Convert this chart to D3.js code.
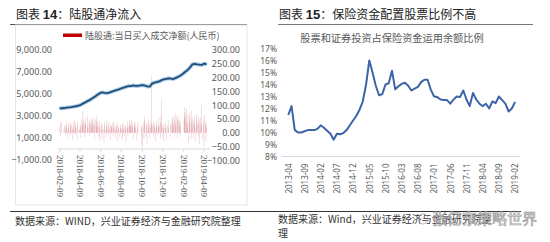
<!DOCTYPE html>
<html><head><meta charset="utf-8">
<script src="https://cdn.jsdelivr.net/npm/d3@7/dist/d3.min.js"></script>
<style>body{margin:0;background:#fff}svg{display:block}</style>
</head><body>
<svg id="c" width="550" height="242"></svg>
<script>
// ---------- DATA: left chart (陆股通) ----------
const leftStart = "2018-02-09";
const leftEnd = "2019-04-19";
const leftHolidays = ["2018-02-15","2018-02-16","2018-02-19","2018-02-20","2018-02-21","2018-04-05","2018-04-06","2018-04-30","2018-05-01","2018-06-18","2018-09-24","2018-10-01","2018-10-02","2018-10-03","2018-10-04","2018-10-05","2018-12-25","2018-12-26","2018-12-31","2019-01-01","2019-02-04","2019-02-05","2019-02-06","2019-02-07","2019-02-08","2019-04-05"];
// daily net buy (亿元, right axis)
const dailyNet = [
 20,-15,35,40,12,25,-8,30,18,45,22,-20,10,28,35,15,-12,40,26,8,
 30,-25,15,38,20,12,48,-10,22,35,18,-30,25,42,10,16,-18,30,22,50,
 35,20,79,45,28,-15,38,55,30,22,60,18,42,-12,35,50,25,48,33,15,
 40,56,28,45,-20,30,52,38,20,62,44,25,-15,30,18,40,-28,22,35,12,
 -22,30,15,-35,25,40,10,-18,32,20,45,15,-10,28,38,12,22,-25,30,18,
 25,35,-12,20,42,15,28,-20,10,30,22,38,-30,15,25,12,-15,32,20,8,
 18,-25,30,22,12,35,-10,20,28,15,-35,22,40,18,-12,25,30,45,20,38,
 25,50,35,28,15,-20,30,42,22,35,18,-30,25,12,40,22,-45,30,-60,20,
 35,-25,45,60,28,-15,38,22,-40,30,15,50,25,-20,35,18,42,28,205,30,
 25,-15,40,20,35,-30,15,28,45,22,-10,30,18,55,25,-20,38,60,30,120,
 22,-15,35,18,-30,25,12,40,20,-25,30,15,45,28,-12,35,55,22,40,60,
 30,48,-15,70,35,25,58,40,-20,65,45,30,50,22,38,-10,45,92,60,75,
 55,88,40,30,65,20,-35,50,72,35,60,-25,40,80,30,55,-20,45,28,65,
 35,-30,50,22,70,40,-15,60,30,45,-40,55,25,100,35,-20,50,30,-50,65,
 25,40,-30,20,35
];
// weekly cumulative net inflow (亿元, left axis), one value per week from leftStart
const cumulative = [
 3670,3680,3700,3730,3760,3790,3825,3860,3910,3990,
 4120,4230,4350,4460,4600,4740,4890,5040,5110,5060,
 5040,5100,5180,5250,5320,5390,5470,5540,5620,5680,
 5680,5740,5700,5700,5740,5780,5720,5650,5640,5900,
 6000,6050,6100,6220,6300,6340,6390,6360,6320,6420,
 6520,6640,6800,6980,7140,7380,7650,7690,7650,7620,
 7600,7720,7650
];
const leftTicksL = [-1000,1000,3000,5000,7000,9000];
const leftTicksR = [-100,-50,0,50,100,150,200,250,300];
const leftDateTicks = ["2018-02-09","2018-04-09","2018-06-09","2018-08-09","2018-10-09","2018-12-09","2019-02-09","2019-04-09"];

// ---------- DATA: right chart (保险资金) ----------
const rightStartMonth = "2013-04";
const stockRatio = [
 11.46,12.2,10.2,10.0,10.0,10.1,10.2,10.2,10.2,10.3,
 10.6,10.4,10.15,9.9,9.4,9.9,9.85,9.95,10.2,10.6,
 11.0,11.4,11.9,12.6,14.0,16.0,15.0,13.9,13.1,13.2,
 14.0,14.1,15.15,13.6,13.85,14.05,14.15,13.9,13.5,13.65,
 13.8,14.2,14.4,14.4,13.55,13.0,12.95,12.75,12.7,12.7,
 12.4,12.75,13.0,12.95,13.5,12.75,12.2,13.3,12.75,12.4,
 12.2,12.4,12.0,12.6,12.45,13.0,12.7,12.4,11.75,12.0,
 12.55
];
const rightTicksY = [8,9,10,11,12,13,14,15,16,17];
const rightTickEvery = 5;

// ---------- helpers ----------
const parse = d3.timeParse("%Y-%m-%d");
const fmtDay = d3.timeFormat("%Y-%m-%d");
const svg = d3.select("#c");
const CJK = "'Noto Sans CJK SC','Noto Sans',sans-serif";

// trading days
const hol = new Set(leftHolidays);
const tradeDays = [];
for (let d = parse(leftStart); d <= parse(leftEnd); d = d3.timeDay.offset(d, 1)) {
  const w = d.getDay();
  if (w === 0 || w === 6 || hol.has(fmtDay(d))) continue;
  tradeDays.push(new Date(d));
}
const bars = dailyNet.slice(0, tradeDays.length).map((v, i) => ({d: tradeDays[i], v}));
const cum = cumulative.map((v, i) => ({d: d3.timeDay.offset(parse(leftStart), 7 * i), v}));

// ---------- panel decorations ----------
function title(x, num, rest) {
  const t = svg.append("text").attr("x", x).attr("y", 19).attr("font-family", CJK)
    .attr("font-size", 12).attr("fill", "#222");
  t.append("tspan").text("图表 ");
  t.append("tspan").attr("font-weight", "bold").attr("font-family", "'Liberation Sans',sans-serif").attr("font-size", 13).text(num);
  t.append("tspan").text("：" + rest);
}
title(16, "14", "陆股通净流入");
title(279, "15", "保险资金配置股票比例不高");
svg.append("line").attr("x1", 10).attr("x2", 247).attr("y1", 24.5).attr("y2", 24.5).attr("stroke", "#555").attr("stroke-width", 1.2);
svg.append("line").attr("x1", 278).attr("x2", 533).attr("y1", 24.5).attr("y2", 24.5).attr("stroke", "#777").attr("stroke-width", 1.2);
// left chart frame
svg.append("rect").attr("x", 15.5).attr("y", 25).attr("width", 231.5).attr("height", 180)
  .attr("fill", "none").attr("stroke", "#e6e6e6");
// footer
svg.append("line").attr("x1", 10).attr("x2", 521).attr("y1", 211.5).attr("y2", 211.5).attr("stroke", "#333").attr("stroke-width", 1);
svg.append("text").attr("x", 15).attr("y", 225).attr("font-family", CJK).attr("font-size", 10).attr("fill", "#333")
  .text("数据来源：WIND，兴业证券经济与金融研究院整理");
svg.append("text").attr("x", 278).attr("y", 223).attr("font-family", CJK).attr("font-size", 10).attr("fill", "#333")
  .text("数据来源：Wind，兴业证券经济与金融研究院整");
svg.append("text").attr("x", 278).attr("y", 237).attr("font-family", CJK).attr("font-size", 10).attr("fill", "#333").text("理");

// ---------- left chart ----------
const xL = d3.scaleTime().domain([parse(leftDateTicks[0]), parse(leftDateTicks[leftDateTicks.length - 1])]).range([59.5, 203.3]);
const yL = d3.scaleLinear().domain([-1000, 9000]).range([160, 49.4]);
const yR = d3.scaleLinear().domain([-100, 300]).range([160.5, 50]);

// bars
svg.append("g").selectAll("rect").data(bars).join("rect")
  .attr("x", d => xL(d.d) - 0.25).attr("width", 0.5)
  .attr("y", d => Math.min(yR(0), yR(d.v))).attr("height", d => Math.abs(yR(d.v) - yR(0)))
  .attr("fill", "#c0404a").attr("opacity", 0.35);

// x axis at left 0
const axL = svg.append("g").attr("transform", `translate(0,${yL(0)})`)
  .call(d3.axisBottom(xL).tickValues(leftDateTicks.map(parse)).tickFormat(fmtDay).tickSize(3));
axL.select(".domain").attr("stroke", "#d9d9d9").attr("d", `M${xL(parse(leftStart)) - 2},0H${xL(parse(leftEnd)) + 3}`);
axL.selectAll(".tick line").attr("stroke", "#d9d9d9");
axL.selectAll(".tick text").attr("transform", "rotate(90)").attr("text-anchor", "start")
  .attr("x", 6).attr("y", 0).attr("dy", "0.35em")
  .attr("font-family", "'Liberation Serif',serif").attr("font-size", 9).attr("fill", "#595959");

// y axes
const ayl = svg.append("g").attr("transform", "translate(52,0)")
  .call(d3.axisLeft(yL).tickValues(leftTicksL).tickFormat(d3.format(",.2f")).tickSize(0));
ayl.select(".domain").remove();
ayl.selectAll("text").attr("x", 0).attr("font-family", "'Noto Sans',sans-serif").attr("font-size", 9).attr("fill", "#595959");
const ayr = svg.append("g").attr("transform", "translate(240,0)")
  .call(d3.axisLeft(yR).tickValues(leftTicksR).tickFormat(d3.format(".2f")).tickSize(0));
ayr.select(".domain").remove();
ayr.selectAll("text").attr("x", 0).attr("font-family", "'Noto Sans',sans-serif").attr("font-size", 9).attr("fill", "#595959");

// cumulative line with glow
const lineL = d3.line().x(d => xL(d.d)).y(d => yL(d.v));
svg.append("path").datum(cum).attr("d", lineL).attr("fill", "none")
  .attr("stroke", "#9dc3e6").attr("stroke-width", 4).attr("stroke-linejoin", "round").attr("opacity", 0.8);
svg.append("path").datum(cum).attr("d", lineL).attr("fill", "none")
  .attr("stroke", "#1f4e79").attr("stroke-width", 1.8).attr("stroke-linejoin", "round");

// legend
svg.append("rect").attr("x", 63).attr("y", 33.5).attr("width", 19).attr("height", 3.5).attr("fill", "#c00000");
svg.append("text").attr("x", 85).attr("y", 38.5).attr("font-family", CJK).attr("font-size", 9).attr("fill", "#595959")
  .text("陆股通:当日买入成交净额(人民币)");

// ---------- right chart ----------
const months = stockRatio.map((v, i) => ({i, v, label: d3.timeFormat("%Y-%m")(d3.timeMonth.offset(d3.timeParse("%Y-%m")(rightStartMonth), i))}));
const x2 = d3.scaleLinear().domain([0, stockRatio.length - 1]).range([288.3, 515.1]);
const y2 = d3.scaleLinear().domain([8, 17]).range([156.5, 48.5]);

svg.append("text").attr("x", 392).attr("y", 42).attr("text-anchor", "middle").attr("font-family", CJK)
  .attr("font-size", 10.2).attr("fill", "#595959").text("股票和证券投资占保险资金运用余额比例");

const ax2 = svg.append("g").attr("transform", `translate(0,${y2(8)})`)
  .call(d3.axisBottom(x2).tickValues(months.filter(m => m.i % rightTickEvery === 0).map(m => m.i))
    .tickFormat(i => months[i].label).tickSize(0));
ax2.select(".domain").attr("stroke", "#d9d9d9").attr("d", `M282,0H520`);
ax2.selectAll(".tick text").attr("transform", "rotate(-90)").attr("text-anchor", "end")
  .attr("x", -7).attr("y", 0).attr("dy", "0.35em")
  .attr("font-family", "'Noto Sans',sans-serif").attr("font-size", 8).attr("fill", "#595959");

const ay2 = svg.append("g").attr("transform", "translate(277,0)")
  .call(d3.axisLeft(y2).tickValues(rightTicksY).tickFormat(d => d + "%").tickSize(0));
ay2.select(".domain").remove();
ay2.selectAll("text").attr("x", 0).attr("font-family", "'Noto Sans',sans-serif").attr("font-size", 8.5).attr("fill", "#595959");

svg.append("path").datum(months).attr("fill", "none").attr("stroke", "#3d64a8").attr("stroke-width", 2)
  .attr("stroke-linejoin", "round").attr("d", d3.line().x(d => x2(d.i)).y(d => y2(d.v)));

// watermark
const wm = svg.append("g").attr("opacity", 0.85);
wm.append("circle").attr("cx", 423).attr("cy", 219).attr("r", 5).attr("fill", "none").attr("stroke", "#aaa").attr("stroke-width", 1);
wm.append("text").attr("x", 432).attr("y", 224).attr("font-family", CJK).attr("font-size", 15)
  .attr("fill", "#fff").attr("stroke", "#8a8a8a").attr("stroke-width", 0.7).text("张亿东策略世界");
</script>
</body></html>
